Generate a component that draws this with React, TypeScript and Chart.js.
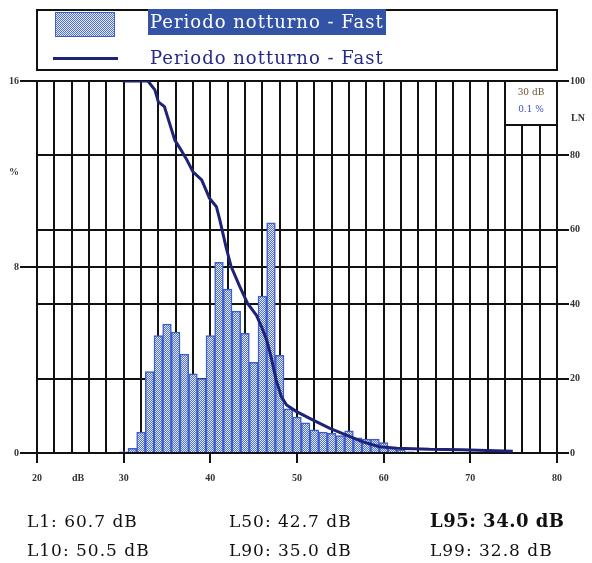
import React, { useEffect, useRef } from "react";
import { Chart, registerables } from "chart.js";

Chart.register(...registerables);

// Histogram: level classes (dB) and percentage of time (%)
const BAR_DB = [30, 31, 32, 33, 34, 35, 36, 37, 38, 39, 40, 41, 42, 43, 44, 45, 46, 47, 48, 49, 50, 51, 52, 53, 54, 55, 56, 57, 58, 59, 60, 61, 62, 63];
const BAR_PCT = [0.05, 0.2, 0.9, 3.5, 5.05, 5.55, 5.2, 4.25, 3.4, 3.2, 5.05, 8.2, 7.05, 6.1, 5.15, 3.9, 6.75, 9.9, 4.2, 1.9, 1.55, 1.3, 1.0, 0.9, 0.85, 0.75, 0.95, 0.65, 0.6, 0.6, 0.45, 0.25, 0.12, 0.05];

// Cumulative curve LN (%)
const LN_DB = [29.9, 32.8, 33.6, 34.0, 34.7, 35.3, 35.9, 36.5, 37.2, 38.0, 39.0, 39.9, 40.7, 41.1, 41.8, 42.4, 43.4, 44.3, 45.3, 45.9, 46.5, 47.0, 47.6, 48.2, 48.8, 49.9, 51.8, 53.8, 55.7, 57.6, 59.5, 61.5, 65.3, 69.0, 74.9];
const LN_PCT = [100, 100, 97.6, 94.4, 93.1, 88.6, 84.1, 81.9, 79.2, 75.6, 73.4, 68.5, 66.2, 62.6, 55.5, 50.1, 44.7, 40.2, 37.1, 34.0, 30.4, 25.9, 19.6, 15.1, 12.9, 11.2, 8.9, 6.6, 4.8, 3.0, 1.7, 1.3, 1.0, 0.9, 0.5];

const SERIES_LABEL = "Periodo notturno - Fast";
const STAT_NAMES = ["L1", "L10", "L50", "L90", "L95", "L99"];
const STAT_VALUES = [60.7, 50.5, 42.7, 35.0, 34.0, 32.8];
const INSET_LINES = ["30 dB", "0.1 %"];

const BAR_BLUE = "#3c5ec8";
const LINE_NAVY = "#1f2377";
const GRID = "#111";
const TICK_FONT = { family: "Liberation Serif", size: 10, weight: "bold" as const };

function makePattern(ctx: CanvasRenderingContext2D) {
  const c = document.createElement("canvas");
  c.width = 2;
  c.height = 2;
  const g = c.getContext("2d")!;
  g.fillStyle = "#5273d2";
  g.fillRect(0, 0, 2, 2);
  g.fillStyle = "#e2e8f8";
  g.fillRect(0, 0, 1, 1);
  g.fillRect(1, 1, 1, 1);
  return ctx.createPattern(c, "repeat")!;
}

export default function App() {
  const ref = useRef<HTMLCanvasElement>(null);

  useEffect(() => {
    const canvas = ref.current!;
    const ctx = canvas.getContext("2d")!;
    const pattern = makePattern(ctx);
    const chart = new Chart(ctx, {
      type: "bar",
      data: {
        datasets: [
          {
            type: "line",
            label: SERIES_LABEL,
            data: LN_DB.map((x, i) => ({ x, y: LN_PCT[i] })),
            borderColor: LINE_NAVY,
            borderWidth: 3,
            pointRadius: 0,
            tension: 0,
            yAxisID: "y2",
            order: 1,
          } as any,
          {
            type: "bar",
            label: SERIES_LABEL,
            data: BAR_DB.map((x, i) => ({ x, y: BAR_PCT[i] })),
            backgroundColor: pattern,
            borderColor: BAR_BLUE,
            borderWidth: 1.5,
            barPercentage: 1,
            categoryPercentage: 1,
            yAxisID: "y",
            order: 2,
          } as any,
        ],
      },
      options: {
        animation: false,
        responsive: false,
        layout: { padding: { top: 81, left: 0, right: 0, bottom: 0 } },
        plugins: { legend: { display: false }, tooltip: { enabled: false } },
        scales: {
          x: {
            type: "linear",
            min: 20,
            max: 80,
            offset: false,
            ticks: {
              stepSize: 2,
              autoSkip: false,
              maxRotation: 0,
              padding: 9,
              color: "#333",
              font: TICK_FONT,
              callback: (v: any) => (Number(v) % 10 === 0 ? String(v) : ""),
            },
            grid: {
              offset: false,
              color: GRID,
              lineWidth: 2,
              tickLength: 10,
              tickColor: (c: any) => (c.tick && c.tick.value % 10 === 0 ? GRID : "rgba(0,0,0,0)"),
            },
            border: { color: GRID, width: 2 },
            afterFit: (s: any) => {
              s.height = 110;
            },
          },
          y: {
            position: "left",
            min: 0,
            max: 16,
            ticks: { stepSize: 8, padding: 1, color: "#333", font: TICK_FONT },
            grid: { color: GRID, lineWidth: 2, tickLength: 17 },
            border: { color: GRID, width: 2 },
            afterFit: (s: any) => {
              s.width = 37;
            },
          },
          y2: {
            position: "right",
            min: 0,
            max: 100,
            ticks: { stepSize: 20, padding: 1, color: "#333", font: TICK_FONT },
            grid: { color: GRID, lineWidth: 2, tickLength: 12 },
            border: { color: GRID, width: 2 },
            afterFit: (s: any) => {
              s.width = 35;
            },
          },
        } as any,
      },
    });
    return () => chart.destroy();
  }, []);

  const smallLabel: React.CSSProperties = {
    position: "absolute",
    fontFamily: "Liberation Serif",
    fontWeight: "bold",
    fontSize: 10,
    color: "#333",
    lineHeight: "12px",
    whiteSpace: "nowrap",
  };
  const legendText: React.CSSProperties = {
    position: "absolute",
    fontFamily: "DejaVu Serif",
    fontSize: 18,
    letterSpacing: "1px",
    lineHeight: "26px",
    whiteSpace: "nowrap",
  };
  const statCols = [27, 229, 430];
  const statRows = [511, 540];

  return (
    <div style={{ position: "fixed", left: 0, top: 0, width: 592, height: 563, background: "#fff", overflow: "hidden" }}>
      <canvas ref={ref} width={592} height={563} style={{ position: "absolute", left: 0, top: 0 }} />

      {/* legend */}
      <div style={{ position: "absolute", left: 36, top: 9, width: 522, height: 62, border: "2px solid #111", boxSizing: "border-box" }} />
      <div
        style={{
          position: "absolute",
          left: 55,
          top: 12,
          width: 60,
          height: 25,
          boxSizing: "border-box",
          border: `1.5px solid ${BAR_BLUE}`,
          background: "repeating-conic-gradient(#5273d2 0 25%, #e2e8f8 0 50%) 0 0 / 2px 2px",
        }}
      />
      <div style={{ ...legendText, left: 148, top: 9, padding: "0 2px", background: "#3353a6", color: "#fff" }}>{SERIES_LABEL}</div>
      <div style={{ position: "absolute", left: 53, top: 57, width: 65, height: 3, background: LINE_NAVY }} />
      <div style={{ ...legendText, left: 150, top: 45, color: "#262a86" }}>{SERIES_LABEL}</div>

      {/* axis extra labels */}
      <div style={{ ...smallLabel, left: 9, top: 166 }}>%</div>
      <div style={{ ...smallLabel, left: 72, top: 472 }}>dB</div>
      <div style={{ ...smallLabel, left: 571, top: 112 }}>LN</div>

      {/* inset box */}
      <div
        style={{
          position: "absolute",
          left: 504,
          top: 80,
          width: 54,
          height: 46,
          boxSizing: "border-box",
          border: "2px solid #111",
          background: "#fff",
          fontFamily: "DejaVu Serif",
          fontSize: 9,
          textAlign: "center",
        }}
      >
        <div style={{ position: "absolute", left: 0, right: 0, top: 5, color: "#6b5530" }}>{INSET_LINES[0]}</div>
        <div style={{ position: "absolute", left: 0, right: 0, top: 22, color: "#3d4fc0" }}>{INSET_LINES[1]}</div>
      </div>

      {/* statistics */}
      {STAT_NAMES.map((n, i) => (
        <div
          key={n}
          style={{
            position: "absolute",
            left: statCols[Math.floor(i / 2)],
            top: statRows[i % 2],
            fontFamily: "DejaVu Serif",
            fontSize: n === "L95" ? 18 : 17,
            fontWeight: n === "L95" ? "bold" : "normal",
            letterSpacing: n === "L95" ? "0.5px" : "1px",
            lineHeight: "20px",
            color: "#111",
            whiteSpace: "nowrap",
          }}
        >
          {`${n}: ${STAT_VALUES[i].toFixed(1)} dB`}
        </div>
      ))}
    </div>
  );
}
